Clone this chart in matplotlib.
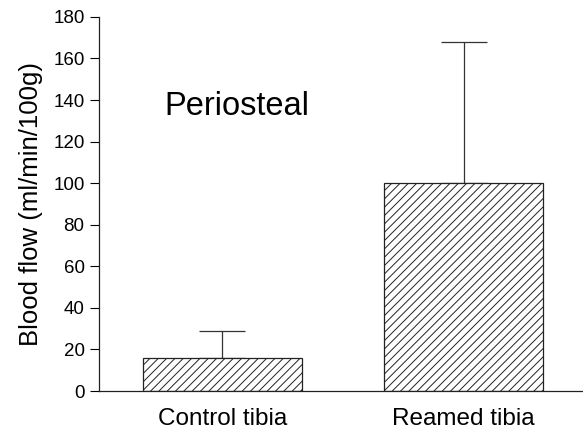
import matplotlib
matplotlib.use("Agg")
import matplotlib.pyplot as plt
import numpy as np

categories = ["Control tibia", "Reamed tibia"]
means = [16, 100]
upper_err = [13, 68]
yticks = [0, 20, 40, 60, 80, 100, 120, 140, 160, 180]

plt.rcParams['font.family'] = ['Liberation Sans', 'DejaVu Sans']
plt.rcParams['hatch.linewidth'] = 0.7
plt.rcParams['hatch.color'] = '#222222'

fig = plt.figure(figsize=(5.83, 4.34), dpi=100)
ax = fig.add_axes([0.17, 0.099, 0.83, 0.862])

x = np.arange(len(categories))
ax.bar(x, means, width=0.66, color='white', edgecolor='#222222',
       linewidth=0.9, hatch='////', zorder=2)
ax.errorbar(x, means, yerr=[np.zeros(len(means)), upper_err], fmt='none',
            ecolor='#333333', elinewidth=0.9, capsize=16.5, capthick=0.9, zorder=1)

ax.set_xlim(-0.51, 1.495)
ax.set_ylim(0, 180)
ax.set_yticks(yticks)
ax.set_xticks(x)
ax.set_xticklabels(categories, fontsize=17.5)
ax.tick_params(axis='x', length=0, pad=12.5)
ax.tick_params(axis='y', length=6.5, width=0.8, pad=4, labelsize=13.5)
for s in ['top', 'right']:
    ax.spines[s].set_visible(False)
for s in ['left', 'bottom']:
    ax.spines[s].set_linewidth(0.9)
    ax.spines[s].set_color('#222222')

ax.set_ylabel("Blood flow (ml/min/100g)", fontsize=18.5, labelpad=7)
ax.text(-0.24, 132.8, "Periosteal", fontsize=23.5, ha='left', va='baseline')

fig.savefig("out.png", dpi=100)
